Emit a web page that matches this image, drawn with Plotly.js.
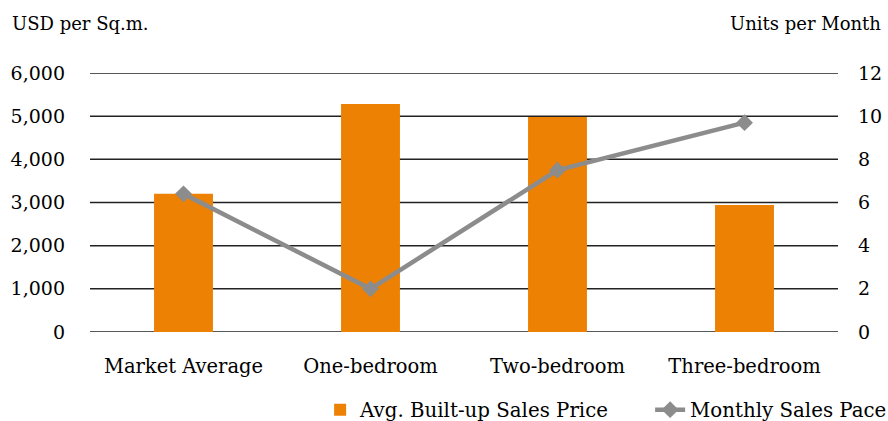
<!DOCTYPE html>
<html>
<head>
<meta charset="utf-8">
<script src="https://cdn.plot.ly/plotly-3.0.1.min.js"></script>
<style>body{margin:0;padding:0;background:#fff;} #chart{width:888px;height:421px;}</style>
</head>
<body>
<div id="chart"></div>
<script>
const categories = ["Market Average", "One-bedroom", "Two-bedroom", "Three-bedroom"];
const salesPrice = [3200, 5280, 4980, 2940];
const salesPace = [6.4, 2.0, 7.5, 9.7];
const leftTicks = [0, 1000, 2000, 3000, 4000, 5000, 6000];
const leftTickText = ["0", "1,000", "2,000", "3,000", "4,000", "5,000", "6,000"];
const rightTicks = [0, 2, 4, 6, 8, 10, 12];

const FONT = "DejaVu Serif, Liberation Serif, serif";

const traces = [
  {
    type: "bar",
    name: "Avg. Built-up Sales Price",
    x: categories,
    y: salesPrice,
    marker: {color: "#EC8104"},
    yaxis: "y"
  },
  {
    type: "scatter",
    mode: "lines+markers",
    name: "Monthly Sales Pace",
    x: categories,
    y: salesPace,
    line: {color: "#8C8C8C", width: 4.5},
    marker: {symbol: "diamond", size: 13, color: "#8C8C8C"},
    yaxis: "y2"
  }
];

const gridShapes = leftTicks.map(v => ({
  type: "line", xref: "paper", yref: "y", x0: 0, x1: 1, y0: v, y1: v,
  line: {color: "#222222", width: 1.5}, layer: "below"
}));

const layout = {
  width: 888,
  height: 421,
  margin: {l: 90, r: 50, t: 73, b: 89, autoexpand: false},
  paper_bgcolor: "#fff",
  plot_bgcolor: "#fff",
  font: {family: FONT, size: 19, color: "#000"},
  bargap: 0.685,
  showlegend: true,
  legend: {
    orientation: "h",
    x: 1.19, xanchor: "right",
    y: -0.225, yanchor: "top",
    font: {family: FONT, size: 19.8, color: "#000"},
    traceorder: "normal",
    itemwidth: 30,
    entrywidth: 285
  },
  xaxis: {
    showgrid: false,
    showline: false,
    zeroline: false,
    ticks: "",
    ticklabelstandoff: 20,
    tickfont: {family: FONT, size: 19.5}
  },
  yaxis: {
    range: [0, 6000],
    tickvals: leftTicks,
    ticktext: leftTickText,
    showgrid: false,
    zeroline: false,
    showline: false,
    ticks: "",
    ticklabelstandoff: 24,
    tickfont: {family: FONT, size: 19}
  },
  yaxis2: {
    range: [0, 12],
    tickvals: rightTicks,
    overlaying: "y",
    side: "right",
    showgrid: false,
    zeroline: false,
    showline: false,
    ticks: "",
    ticklabelstandoff: 19,
    tickfont: {family: FONT, size: 19}
  },
  shapes: gridShapes,
  annotations: [
    {text: "USD per Sq.m.", xref: "paper", yref: "paper", x: -0.107, y: 1.19, xanchor: "left", yanchor: "middle", showarrow: false, font: {family: FONT, size: 18}},
    {text: "Units per Month", xref: "paper", yref: "paper", x: 1.06, y: 1.19, xanchor: "right", yanchor: "middle", showarrow: false, font: {family: FONT, size: 18}}
  ]
};

Plotly.newPlot("chart", traces, layout, {displayModeBar: false, staticPlot: true});
</script>
</body>
</html>
